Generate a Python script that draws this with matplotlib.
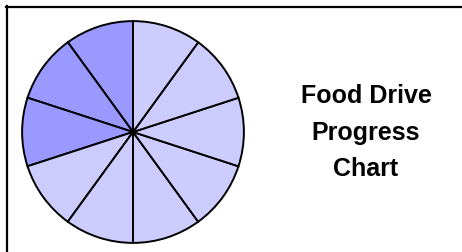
import matplotlib
matplotlib.use("Agg")
import matplotlib.pyplot as plt
from matplotlib.lines import Line2D

# 10 equal segments, first 3 collected (filled), rest still to go
segments = [1] * 10
filled = [True, True, True] + [False] * 7
title_lines = ["Food Drive", "Progress", "Chart"]

dark = "#9999FF"
light = "#CCCCFF"

W, H = 462, 252
fig = plt.figure(figsize=(W / 100, H / 100), dpi=100)
fig.patch.set_facecolor("white")

# pie centre and radius in pixels
cx, cy, r = 133, 132, 112
ax = fig.add_axes([(cx - r) / W, (H - cy - r) / H, 2 * r / W, 2 * r / H])
ax.pie(segments, colors=[dark if f else light for f in filled],
       startangle=90, counterclock=True, radius=1,
       wedgeprops=dict(edgecolor="black", linewidth=1.4))
ax.set_xlim(-1.01, 1.01)
ax.set_ylim(-1.01, 1.01)
ax.set_aspect("auto")
ax.axis("off")

# frame (only top and left visible)
fig.add_artist(Line2D([6 / W, 1], [1 - 6.5 / H, 1 - 6.5 / H], color="black", lw=1.6,
                      transform=fig.transFigure))
fig.add_artist(Line2D([6.5 / W, 6.5 / W], [0, 1 - 6 / H], color="black", lw=1.6,
                      transform=fig.transFigure))

baselines = [103, 140, 176]
for txt, y in zip(title_lines, baselines):
    fig.text(366 / W, 1 - y / H, txt, ha="center", va="baseline",
             fontsize=18, fontweight="bold", family="Liberation Sans")

fig.savefig("out.png", dpi=100)
